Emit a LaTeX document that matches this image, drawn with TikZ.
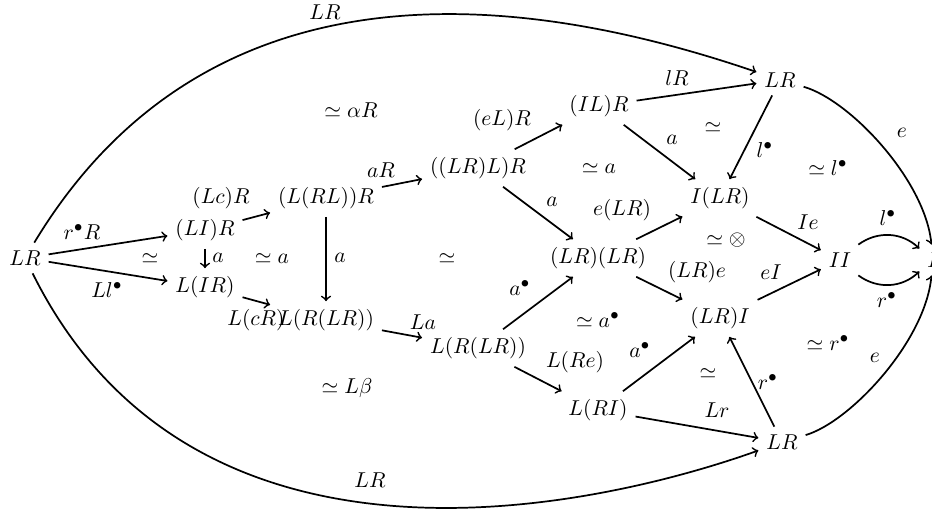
\documentclass[tikz,border=0pt]{standalone}
\begin{document}
\begin{tikzpicture}[x=0.4646pt,y=-0.4646pt,line width=0.8pt,
  obj/.style={},
  lbl/.style={inner sep=0pt},
  cell/.style={inner sep=0pt},
  arr/.style={->}]
\useasboundingbox (0,0) rectangle (932,512);
% objects
\node[obj] (A) at (25,258) {$LR$};
\node[obj] (B) at (205,230) {$(LI)R$};
\node[obj] (C) at (205,287) {$L(IR)$};
\node[obj] (D) at (326,198) {$(L(RL))R$};
\node[obj] (E) at (326,320) {$L(R(LR))$};
\node[obj] (F) at (478,168) {$((LR)L)R$};
\node[obj] (G) at (478,348) {$L(R(LR))$};
\node[obj] (H) at (599,106) {$(IL)R$};
\node[obj] (J) at (598,258) {$(LR)(LR)$};
\node[obj] (K) at (598,410) {$L(RI)$};
\node[obj] (M) at (720,198) {$I(LR)$};
\node[obj] (N) at (720,318) {$(LR)I$};
\node[obj] (P) at (780,80) {$LR$};
\node[obj] (Q) at (782,442) {$LR$};
\node[obj] (S) at (840,260) {$II$};
\node[obj] (T) at (933,260) {$I$};
% arrows
\draw[arr] (A) -- (B);
\draw[arr] (A) -- (C);
\draw[arr] (B) -- (C);
\draw[arr] (B) -- (D);
\draw[arr] (C) -- (E);
\draw[arr] (D) -- (E);
\draw[arr] (D) -- (F);
\draw[arr] (E) -- (G);
\draw[arr] (F) -- (H);
\draw[arr] (F) -- (J);
\draw[arr] (G) -- (J);
\draw[arr] (G) -- (K);
\draw[arr] (H) -- (P);
\draw[arr] (H) -- (M);
\draw[arr] (J) -- (M);
\draw[arr] (J) -- (N);
\draw[arr] (K) -- (N);
\draw[arr] (K) -- (Q);
\draw[arr] (P) -- (M);
\draw[arr] (Q) -- (N);
\draw[arr] (M) -- (S);
\draw[arr] (N) -- (S);
\draw[arr] (S) to[bend left=40] (T);
\draw[arr] (S) to[bend right=40] (T);
\draw[arr] (P) .. controls (850,100) and (925,180) .. (T);
\draw[arr] (Q) .. controls (850,422) and (925,342) .. (T);
\draw[arr] (A) .. controls (220,-65) and (560,5) .. (P);
\draw[arr] (A) .. controls (200,610) and (620,500) .. (Q);
% arrow labels
\node[lbl] (lAB) at (82,232) {$r^\bullet R$};
\node[lbl] (lAC) at (107,290) {$Ll^\bullet$};
\node[lbl] (lBC) at (218,258) {$a$};
\node[lbl] (lBD) at (221,198) {$(Lc)R$};
\node[lbl] (lCE) at (256,320) {$L(cR)$};
\node[lbl] (lDE) at (340,258) {$a$};
\node[lbl] (lDF) at (381,170) {$aR$};
\node[lbl] (lEG) at (423,322) {$La$};
\node[lbl] (lFH) at (502,120) {$(eL)R$};
\node[lbl] (lFJ) at (552,202) {$a$};
\node[lbl] (lGJ) at (520,288) {$a^\bullet$};
\node[lbl] (lGK) at (575,362) {$L(Re)$};
\node[lbl] (lHP) at (677,78) {$lR$};
\node[lbl] (lHM) at (672,140) {$a$};
\node[lbl] (lJM) at (622,210) {$e(LR)$};
\node[lbl] (lJN) at (697,272) {$(LR)e$};
\node[lbl] (lKN) at (640,350) {$a^\bullet$};
\node[lbl] (lKQ) at (717,410) {$Lr$};
\node[lbl] (lPM) at (765,150) {$l^\bullet$};
\node[lbl] (lQN) at (768,382) {$r^\bullet$};
\node[lbl] (lMS) at (808,222) {$Ie$};
\node[lbl] (lNS) at (771,272) {$eI$};
\node[lbl] (lST1) at (888,218) {$l^\bullet$};
\node[lbl] (lST2) at (887,300) {$r^\bullet$};
\node[lbl] (lPT) at (902,133) {$e$};
\node[lbl] (lQT) at (875,358) {$e$};
\node[lbl] (lAP) at (325,12) {$LR$};
\node[lbl] (lAQ) at (370,480) {$LR$};
% cell labels
\node[cell] (c1) at (150,258) {$\simeq$};
\node[cell] (c2) at (272,258) {$\simeq a$};
\node[cell] (c3) at (351,110) {$\simeq \alpha R$};
\node[cell] (c4) at (447,258) {$\simeq$};
\node[cell] (c5) at (347,388) {$\simeq L\beta$};
\node[cell] (c6) at (599,168) {$\simeq a$};
\node[cell] (c7) at (598,320) {$\simeq a^\bullet$};
\node[cell] (c8) at (713,127) {$\simeq$};
\node[cell] (c9) at (726,240) {$\simeq \otimes$};
\node[cell] (c10) at (708,373) {$\simeq$};
\node[cell] (c11) at (828,168) {$\simeq l^\bullet$};
\node[cell] (c12) at (828,343) {$\simeq r^\bullet$};
\end{tikzpicture}
\end{document}
